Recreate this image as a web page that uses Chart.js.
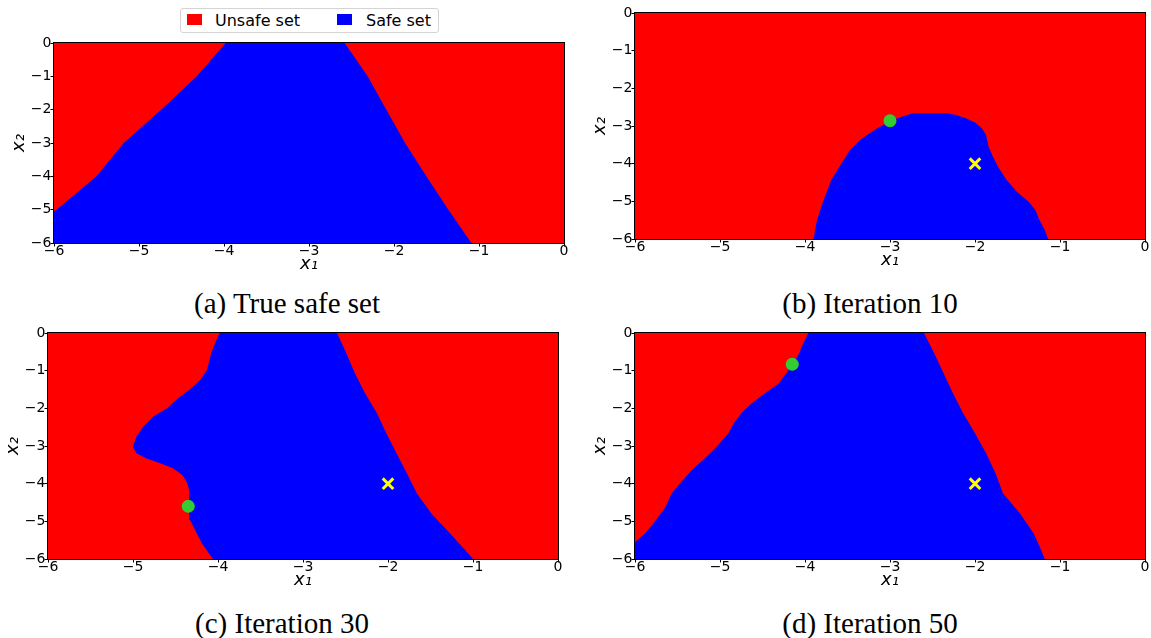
<!DOCTYPE html>
<html>
<head>
<meta charset="utf-8">
<script src="https://cdn.jsdelivr.net/npm/chart.js@4.4.1/dist/chart.umd.min.js"></script>
<style>
  html, body { margin: 0; padding: 0; background: #fff; }
  body { width: 1151px; height: 638px; position: relative; overflow: hidden; font-family: 'DejaVu Sans', sans-serif; }
  canvas.panel { position: absolute; }
  .cap { position: absolute; font-family: 'Liberation Serif', serif; font-size: 29px; line-height: 29px; white-space: nowrap; transform: translateX(-50%); color: #000; }
  #legend { position: absolute; left: 180px; top: 8px; width: 257px; height: 23px; border: 1px solid #d4d4d4; border-radius: 3px; background: #fff; }
  #legend .sw { position: absolute; top: 5px; width: 15px; height: 11px; }
  #legend .tx { position: absolute; top: 0; font-size: 16px; line-height: 24px; white-space: nowrap; color: #000; }
</style>
</head>
<body>
<div id="legend"></div>
<canvas id="pa" class="panel"></canvas>
<canvas id="pb" class="panel"></canvas>
<canvas id="pc" class="panel"></canvas>
<canvas id="pd" class="panel"></canvas>
<div class="cap" id="capa"></div>
<div class="cap" id="capb"></div>
<div class="cap" id="capc"></div>
<div class="cap" id="capd"></div>
<script>
// ---------------- data ----------------
const axisMin = -6, axisMax = 0;
const xTickValues = [-6, -5, -4, -3, -2, -1, 0];
const yTickValues = [-6, -5, -4, -3, -2, -1, 0];
const legendLabels = ['Unsafe set', 'Safe set'];
const regionColors = ['#ff0000', '#0000ff'];
const captions = ['(a) True safe set', '(b) Iteration 10', '(c) Iteration 30', '(d) Iteration 50'];

// (a) True safe set: boundary of the safe (blue) region, listed top to bottom
const aLeftX  = [-3.98, -4.32, -4.74, -5.18, -5.50, -5.97, -6.00, -6.00];
const aLeftY  = [ 0.00, -1.00, -2.00, -3.00, -4.00, -5.00, -5.05, -6.00];
const aRightX = [-2.58, -2.31, -2.09, -1.87, -1.62, -1.36, -1.09];
const aRightY = [ 0.00, -1.00, -2.00, -3.00, -4.00, -5.00, -6.00];

// (b) Iteration 10
const bLeftX  = [-2.73, -2.80, -2.92, -3.12, -3.24, -3.35, -3.47, -3.57, -3.69, -3.78, -3.86, -3.90];
const bLeftY  = [-2.66, -2.71, -2.80, -3.02, -3.19, -3.37, -3.64, -3.99, -4.43, -4.96, -5.50, -6.00];
const bRightX = [-2.33, -2.22, -2.10, -2.00, -1.92, -1.87, -1.84, -1.79, -1.73, -1.63, -1.51, -1.37, -1.29, -1.24, -1.18, -1.14];
const bRightY = [-2.66, -2.71, -2.80, -2.91, -3.06, -3.24, -3.55, -3.81, -4.08, -4.43, -4.74, -5.01, -5.23, -5.50, -5.76, -6.00];
const bQueryX = [-3.00], bQueryY = [-2.86];
const bStartX = [-2.00], bStartY = [-4.00];

// (c) Iteration 30
const cLeftX  = [-3.98, -4.02, -4.08, -4.13, -4.21, -4.34, -4.47, -4.60, -4.76, -4.88, -4.96, -5.00, -4.96, -4.84, -4.68, -4.53, -4.42, -4.36, -4.34, -4.34, -4.33, -4.27, -4.19, -4.06];
const cLeftY  = [ 0.00, -0.19, -0.54, -0.98, -1.25, -1.51, -1.73, -2.00, -2.22, -2.49, -2.75, -3.02, -3.19, -3.33, -3.46, -3.59, -3.77, -3.99, -4.17, -4.60, -4.96, -5.23, -5.58, -6.00];
const cRightX = [-2.60, -2.49, -2.39, -2.27, -2.13, -2.02, -1.90, -1.78, -1.66, -1.49, -1.27, -1.13, -1.00];
const cRightY = [ 0.00, -0.54, -1.07, -1.60, -2.13, -2.66, -3.19, -3.72, -4.26, -4.79, -5.32, -5.67, -6.00];
const cQueryX = [-4.35], cQueryY = [-4.60];
const cStartX = [-2.00], cStartY = [-4.00];

// (d) Iteration 50
const dLeftX  = [-3.96, -4.02, -4.07, -4.14, -4.22, -4.31, -4.47, -4.63, -4.75, -4.84, -4.90, -5.04, -5.20, -5.33, -5.47, -5.57, -5.64, -5.75, -5.88, -6.00, -6.00];
const dLeftY  = [ 0.00, -0.27, -0.54, -0.83, -1.07, -1.34, -1.60, -1.87, -2.13, -2.40, -2.66, -3.02, -3.37, -3.64, -3.99, -4.26, -4.61, -4.96, -5.32, -5.55, -6.00];
const dRightX = [-2.60, -2.48, -2.37, -2.26, -2.14, -2.00, -1.87, -1.76, -1.67, -1.47, -1.31, -1.24, -1.18];
const dRightY = [ 0.00, -0.54, -1.07, -1.60, -2.13, -2.66, -3.19, -3.72, -4.26, -4.79, -5.32, -5.67, -6.00];
const dQueryX = [-4.15], dQueryY = [-0.83];
const dStartX = [-2.00], dStartY = [-4.00];

// ---------------- layout (plot areas in page px) ----------------
const Y_AXIS_W = 54, X_AXIS_H = 40, PAD = 12;
const panels = [
  { id: 'pa', cap: 'capa', plot: { left: 54,  top: 43,  w: 510, h: 200 }, capX: 287, capTop: 289,
    left: [aLeftX, aLeftY], right: [aRightX, aRightY], query: null, start: null },
  { id: 'pb', cap: 'capb', plot: { left: 635, top: 13,  w: 510, h: 226 }, capX: 870, capTop: 289,
    left: [bLeftX, bLeftY], right: [bRightX, bRightY], query: [bQueryX, bQueryY], start: [bStartX, bStartY] },
  { id: 'pc', cap: 'capc', plot: { left: 48,  top: 333, w: 510, h: 226 }, capX: 282, capTop: 609,
    left: [cLeftX, cLeftY], right: [cRightX, cRightY], query: [cQueryX, cQueryY], start: [cStartX, cStartY] },
  { id: 'pd', cap: 'capd', plot: { left: 635, top: 333, w: 510, h: 226 }, capX: 870, capTop: 609,
    left: [dLeftX, dLeftY], right: [dRightX, dRightY], query: [dQueryX, dQueryY], start: [dStartX, dStartY] },
];

const pts = (xs, ys) => xs.map((x, i) => ({ x, y: ys[i] }));
const fmt = v => (v < 0 ? '\u2212' + Math.abs(v) : String(v));

const framePlugin = {
  id: 'frame',
  afterDatasetsDraw(chart) {
    const a = chart.chartArea, ctx = chart.ctx;
    ctx.save();
    ctx.strokeStyle = '#000';
    ctx.lineWidth = 1;
    ctx.strokeRect(Math.round(a.left) - 0.5, Math.round(a.top) - 0.5, Math.round(a.right - a.left) + 1, Math.round(a.bottom - a.top) + 1);
    ctx.restore();
  }
};

function axis(ticks, isX) {
  return {
    type: 'linear',
    min: axisMin, max: axisMax,
    afterBuildTicks: s => { s.ticks = ticks.map(v => ({ value: v })); },
    afterFit: s => { if (isX) s.height = X_AXIS_H; else s.width = Y_AXIS_W; },
    ticks: {
      callback: fmt, color: '#000', autoSkip: false, maxRotation: 0,
      font: { family: 'DejaVu Sans', size: 14 },
      padding: isX ? -3.5 : -1
    },
    grid: { display: true, drawOnChartArea: false, drawTicks: true, tickLength: 3.5, tickColor: '#000', tickWidth: 1 },
    border: { display: false },
    title: {
      display: true, text: isX ? 'x\u2081' : 'x\u2082', color: '#000',
      font: { family: 'DejaVu Sans', size: 18, style: 'italic', weight: 'normal' },
      padding: isX ? { top: 0, bottom: 8 } : { top: 8.3, bottom: 0 }
    }
  };
}

panels.forEach((p, idx) => {
  const cv = document.getElementById(p.id);
  const W = p.plot.w + Y_AXIS_W + PAD, H = p.plot.h + PAD + X_AXIS_H;
  cv.width = W; cv.height = H;
  cv.style.width = W + 'px'; cv.style.height = H + 'px';
  cv.style.left = (p.plot.left - Y_AXIS_W) + 'px';
  cv.style.top = (p.plot.top - PAD) + 'px';

  const safePoly = pts(p.left[0], p.left[1]).reverse().concat(pts(p.right[0], p.right[1]));
  const unsafeRect = [{ x: axisMin, y: axisMax }, { x: axisMax, y: axisMax }, { x: axisMax, y: axisMin }, { x: axisMin, y: axisMin }];

  const datasets = [
    { label: legendLabels[0], data: unsafeRect, fill: 'shape', backgroundColor: regionColors[0],
      borderColor: 'rgba(0,0,0,0)', borderWidth: 0, pointRadius: 0, tension: 0, order: 3 },
    { label: legendLabels[1], data: safePoly, fill: 'shape', backgroundColor: regionColors[1],
      borderColor: 'rgba(0,0,0,0)', borderWidth: 0, pointRadius: 0, tension: 0, order: 2 },
  ];
  if (p.query) datasets.push({ label: 'query', data: pts(p.query[0], p.query[1]), showLine: false, fill: false,
      pointStyle: 'circle', pointRadius: 6.5, pointBackgroundColor: '#33cc33', pointBorderWidth: 0, pointBorderColor: '#33cc33', order: 1 });
  if (p.start) datasets.push({ label: 'start', data: pts(p.start[0], p.start[1]), showLine: false, fill: false,
      pointStyle: 'crossRot', pointRadius: 7.5, pointBorderColor: '#ffff00', pointBorderWidth: 3, order: 0 });

  new Chart(cv, {
    type: 'line',
    data: { datasets },
    options: {
      responsive: false, animation: false, devicePixelRatio: 1,
      layout: { padding: { left: 0, top: PAD, right: PAD, bottom: 0 } },
      plugins: { legend: { display: false }, tooltip: { enabled: false }, title: { display: false } },
      scales: { x: axis(xTickValues, true), y: axis(yTickValues, false) }
    },
    plugins: [framePlugin]
  });

  const cap = document.getElementById(p.cap);
  cap.textContent = captions[idx];
  cap.style.left = p.capX + 'px';
  cap.style.top = p.capTop + 'px';
});

// legend (drawn from the region series names/colours)
const lg = document.getElementById('legend');
const swLeft = [6, 156], txLeft = [34, 185];
legendLabels.forEach((lab, i) => {
  const sw = document.createElement('div');
  sw.className = 'sw'; sw.style.left = swLeft[i] + 'px'; sw.style.background = regionColors[i];
  const tx = document.createElement('div');
  tx.className = 'tx'; tx.style.left = txLeft[i] + 'px'; tx.textContent = lab;
  lg.appendChild(sw); lg.appendChild(tx);
});
</script>
</body>
</html>
